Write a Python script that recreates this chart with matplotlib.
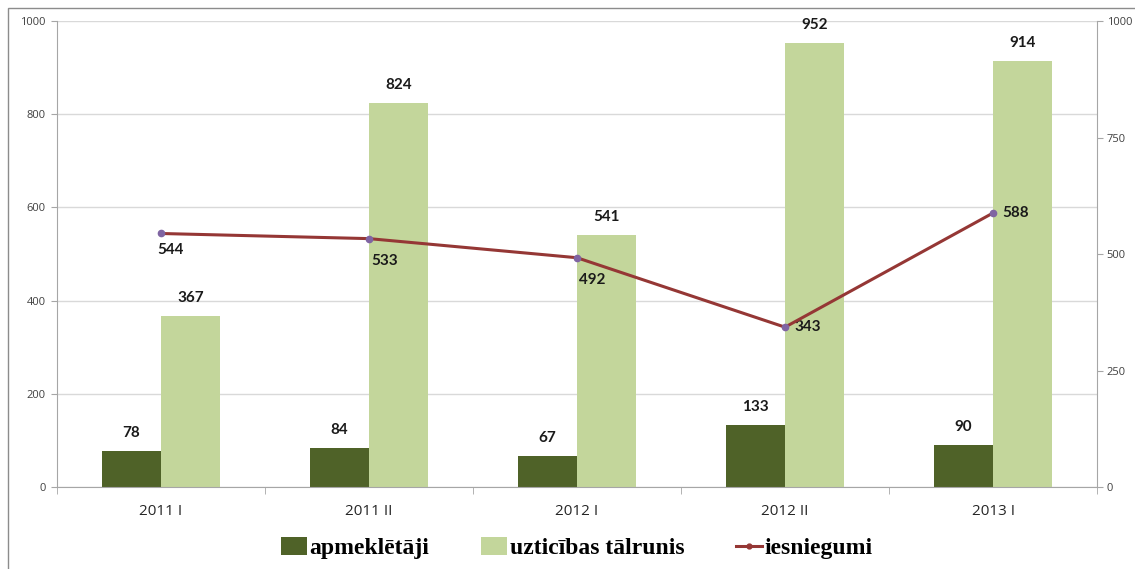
import numpy as np
import matplotlib.pyplot as plt
from matplotlib.patches import Rectangle
from matplotlib.lines import Line2D
from matplotlib.patches import Patch

# Data
periods = ['2011 I', '2011 II', '2012 I', '2012 II', '2013 I']
apmekletaji = [78, 84, 67, 133, 90]
uzticibas_talrunis = [367, 824, 541, 952, 914]
iesniegumi = [544, 533, 492, 343, 588]
line_label_side = ['below', 'below2', 'below2', 'right', 'right']

dark_green = '#4F6228'
light_green = '#C3D69B'
line_red = '#953735'
marker_purple = '#7F64A2'
grid_gray = '#D9D9D9'
axis_gray = '#A6A6A6'
tick_text = '#404040'

fig = plt.figure(figsize=(11.35, 5.69), dpi=100)
ax = fig.add_axes([57 / 1135, 1 - 487 / 569, 1040 / 1135, 466 / 569])
ax2 = ax.twinx()

# Outer chart border (left and top)
fig.patches.append(Rectangle((8 / 1135, -0.1), 1.2, 1 - 8 / 569 + 0.1,
                             transform=fig.transFigure, fill=False,
                             edgecolor='#8C8C8C', linewidth=1.0))

x = np.arange(len(periods))
w = 0.285
ax.bar(x - w / 2, apmekletaji, width=w, color=dark_green, zorder=2)
ax.bar(x + w / 2, uzticibas_talrunis, width=w, color=light_green, zorder=2)

lab_font = dict(fontsize=11, fontweight='bold', color='#1a1a1a', family='Lato')
for xi, v in zip(x, apmekletaji):
    ax.annotate(str(v), (xi - w / 2, v), xytext=(0, 8), textcoords='offset points',
                ha='center', va='bottom', **lab_font)
for xi, v in zip(x, uzticibas_talrunis):
    ax.annotate(str(v), (xi + w / 2, v), xytext=(0, 8), textcoords='offset points',
                ha='center', va='bottom', **lab_font)

ax.set_xlim(-0.5, len(periods) - 0.5)
ax.set_ylim(0, 1000)
ax.set_yticks(range(0, 1001, 200))
ax.grid(axis='y', color=grid_gray, linewidth=1.0, zorder=0)
ax.set_axisbelow(True)

ax.set_xticks(x)
ax.set_xticklabels(periods, fontsize=11, color='#262626', family='Open Sans')
ax.set_xticks(np.arange(-0.5, len(periods)), minor=True)
ax.tick_params(axis='x', which='major', length=0, pad=12)
ax.tick_params(axis='x', which='minor', length=5, color=axis_gray)
ax.tick_params(axis='y', length=4, color=axis_gray, labelsize=8, labelcolor=tick_text, pad=4)
for lbl in ax.get_yticklabels():
    lbl.set_family('Open Sans')

for sp in ['top', 'right']:
    ax.spines[sp].set_visible(False)
for sp in ['left', 'bottom']:
    ax.spines[sp].set_color(axis_gray)

# Secondary axis with the line
ax2.plot(x, iesniegumi, color=line_red, linewidth=2.2, marker='o', markersize=4.5,
         markerfacecolor=marker_purple, markeredgecolor=marker_purple, zorder=5)
ax2.set_ylim(0, 1000)
ax2.set_yticks(range(0, 1001, 250))
ax2.tick_params(axis='y', length=4, color=axis_gray, labelsize=8, labelcolor=tick_text, pad=3)
for lbl in ax2.get_yticklabels():
    lbl.set_family('Open Sans')
for sp in ['top', 'left', 'bottom']:
    ax2.spines[sp].set_visible(False)
ax2.spines['right'].set_color(axis_gray)

for xi, v, side in zip(x, iesniegumi, line_label_side):
    if side == 'below':
        ax2.annotate(str(v), (xi, v), xytext=(7, -7), textcoords='offset points',
                     ha='center', va='top', **lab_font)
    elif side == 'below2':
        ax2.annotate(str(v), (xi, v), xytext=(11, -11), textcoords='offset points',
                     ha='center', va='top', **lab_font)
    else:
        ax2.annotate(str(v), (xi, v), xytext=(7, 0), textcoords='offset points',
                     ha='left', va='center', **lab_font)

handles = [Patch(facecolor=dark_green, edgecolor='none'),
           Patch(facecolor=light_green, edgecolor='none'),
           Line2D([0], [0], color=line_red, linewidth=2.2, marker='o', markersize=3.5,
                  markerfacecolor=line_red, markeredgecolor=line_red)]
fig.legend(handles, ['apmeklētāji', 'uzticības tālrunis', 'iesniegumi'],
           loc='center', bbox_to_anchor=(577 / 1135, 1 - 548 / 569), ncol=3, frameon=False,
           prop=dict(family='Liberation Serif', weight='bold', size=17),
           handlelength=1.1, handleheight=0.8, handletextpad=0.1, columnspacing=2.2)

fig.savefig('out.png', dpi=100)
